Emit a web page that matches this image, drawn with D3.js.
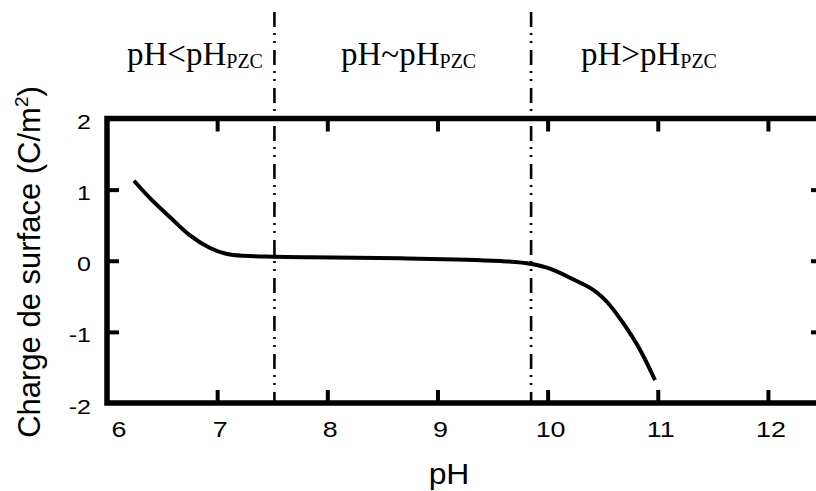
<!DOCTYPE html>
<html>
<head>
<meta charset="utf-8">
<script src="https://cdn.jsdelivr.net/npm/d3@7"></script>
<style>
  body { margin: 0; background: #fff; }
  svg { display: block; }
</style>
</head>
<body>
<div id="app"></div>
<script>
// curve
const ph = [6.245, 6.39, 6.57, 6.75, 6.935, 7.09, 7.235, 7.51, 7.84, 8.66, 9.57, 9.855, 10.02, 10.23, 10.45, 10.54, 10.685, 10.84, 10.975]
const charge = [1.125, 0.88, 0.615, 0.36, 0.18, 0.095, 0.07, 0.057, 0.048, 0.034, -0.004, -0.046, -0.11, -0.26, -0.45, -0.58, -0.875, -1.255, -1.677]

const x_ticks = [6, 7, 8, 9, 10, 11, 12]
const y_ticks = [-2, -1, 0, 1, 2]
const zone_lines = [7.52, 9.85]
const zone_labels = ["pH<pH", "pH~pH", "pH>pH"]
const zone_sub = "PZC"

const width = 816
const height = 491

const svg = d3.select("#app")
   .append("svg")
   .attr("width", width)
   .attr("height", height)

const x = d3.scaleLinear().domain([6, 12.5]).range([107, 823])
const y = d3.scaleLinear().domain([-2, 2]).range([403, 118.5])

const sans = "'Liberation Sans', Arial, sans-serif"
const serif = "'Liberation Serif', 'Times New Roman', serif"

// frame
svg.append("rect")
   .attr("x", x(6))
   .attr("y", y(2))
   .attr("width", x(12.5) - x(6))
   .attr("height", y(-2) - y(2))
   .attr("fill", "none")
   .attr("stroke", "#000")
   .attr("stroke-width", 5.5)

const inner = x_ticks.filter(d => d > 6)
const inner_y = y_ticks.filter(d => d > -2 && d < 2)

const style_axis = g => {
   g.select(".domain").remove()
   g.selectAll(".tick line").attr("stroke", "#000").attr("stroke-width", 4)
   g.selectAll(".tick text").remove()
}

svg.append("g").attr("transform", `translate(0,${y(-2)})`)
   .call(d3.axisBottom(x).tickValues(inner).tickSize(-13)).call(style_axis)
svg.append("g").attr("transform", `translate(0,${y(2)})`)
   .call(d3.axisTop(x).tickValues(inner).tickSize(-13)).call(style_axis)
svg.append("g").attr("transform", `translate(${x(6)},0)`)
   .call(d3.axisLeft(y).tickValues(inner_y).tickSize(-12)).call(style_axis)
svg.append("g").attr("transform", `translate(${x(12.5)},0)`)
   .call(d3.axisRight(y).tickValues(inner_y).tickSize(-12)).call(style_axis)

// tick labels (the source figure has them a bit wide, so stretch in x)
svg.append("g").selectAll("text")
   .data(x_ticks)
   .join("text")
   .attr("transform", d => `translate(${x(d) + (d === 6 ? 12 : 3)},437) scale(1.22,1)`)
   .attr("text-anchor", "middle")
   .attr("font-family", sans)
   .attr("font-size", "22px")
   .text(d => d)

svg.append("g").selectAll("text")
   .data(y_ticks)
   .join("text")
   .attr("transform", d => `translate(91,${y(d) + 10.5}) scale(1.25,1)`)
   .attr("text-anchor", "end")
   .attr("font-family", sans)
   .attr("font-size", "20px")
   .text(d => d)

// axis titles
svg.append("text")
   .attr("transform", "translate(449,484) scale(1.1,1)")
   .attr("text-anchor", "middle")
   .attr("font-family", sans)
   .attr("font-size", "29px")
   .text("pH")

const ylab = svg.append("text")
   .attr("transform", "translate(40,262) rotate(-90)")
   .attr("text-anchor", "middle")
   .attr("font-family", sans)
   .attr("font-size", "31px")
ylab.append("tspan").text("Charge de surface (C/m")
ylab.append("tspan").attr("font-size", "19px").attr("dy", -12).text("2")
ylab.append("tspan").attr("dy", 12).text(")")

// pzc region separators
svg.append("g").selectAll("line")
   .data(zone_lines)
   .join("line")
   .attr("x1", d => x(d))
   .attr("x2", d => x(d))
   .attr("y1", 12)
   .attr("y2", y(-2))
   .attr("stroke", "#000")
   .attr("stroke-width", 2.6)
   .attr("stroke-dasharray", "15,6,2,6,2,7")

const zone_x = [127, 341, 581]
const zl = svg.append("g").selectAll("text")
   .data(zone_labels)
   .join("text")
   .attr("x", (d, i) => zone_x[i])
   .attr("y", 65)
   .attr("font-family", serif)
   .attr("font-size", "33px")
zl.append("tspan").text(d => d)
zl.append("tspan").attr("font-size", "20px").attr("dy", 3).text(zone_sub)

// the curve
const pts = ph.map((p, i) => [p, charge[i]])
svg.append("path")
   .datum(pts)
   .attr("fill", "none")
   .attr("stroke", "#000")
   .attr("stroke-width", 4)
   .attr("d", d3.line().x(d => x(d[0])).y(d => y(d[1])).curve(d3.curveMonotoneX))
</script>
</body>
</html>
